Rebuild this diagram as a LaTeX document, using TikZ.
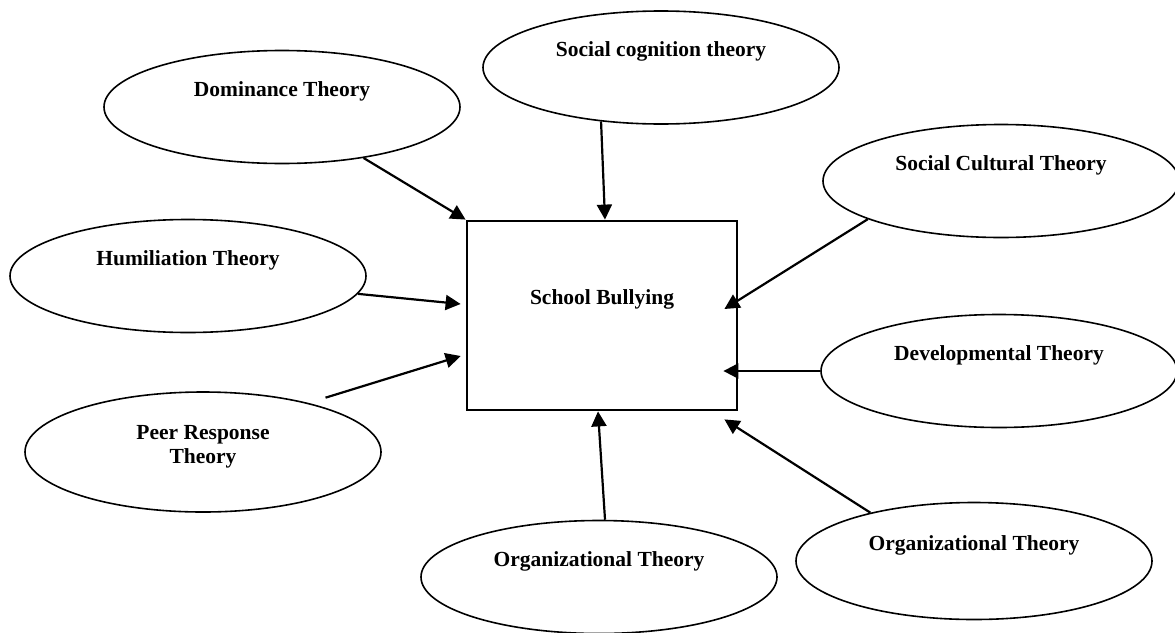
\documentclass[tikz,border=0pt]{standalone}
\usepackage{fontspec}
\setmainfont{Liberation Serif}
\usetikzlibrary{arrows.meta}
\usetikzlibrary{shapes}

\begin{document}
\begin{tikzpicture}[x = 1pt, y = -1pt, font=\bfseries\fontsize{21.5}{24}\selectfont]
	\tikzstyle{theoryStyle}=[shape = ellipse, draw, line width = 1.6pt, minimum width = 356pt, minimum height = 113pt, inner sep = 0pt, text height = 15pt, text depth = 37pt]
	\tikzstyle{boxStyle}=[shape = rectangle, draw, line width = 2.8pt, minimum width = 270pt, minimum height = 189pt, inner sep = 0pt, text height = 15pt, text depth = 37pt]
	\tikzstyle{arrowStyle}=[line width = 2.2pt, -{Triangle[length = 15pt, width = 15pt]}]
	\useasboundingbox (0, 0) rectangle (1175, 632);
	\node[boxStyle] (sb) at (602, 315.5) {School Bullying};
	\node[theoryStyle] (dom) at (282, 107) {Dominance Theory};
	\node[theoryStyle] (soc) at (661, 67.5) {Social cognition theory};
	\node[theoryStyle] (cul) at (1001, 181) {Social Cultural Theory};
	\node[theoryStyle] (hum) at (188, 276) {Humiliation Theory};
	\node[theoryStyle] (dev) at (999, 371) {Developmental Theory};
	\node[theoryStyle, minimum height = 120pt, align = center, text height = {}, text depth = 15pt] (peer) at (203, 452) {Peer Response\\Theory};
	\node[theoryStyle] (org1) at (599, 577) {Organizational Theory};
	\node[theoryStyle, minimum height = 117pt] (org2) at (974, 561) {Organizational Theory};
	\draw[arrowStyle] (dom.-32) -- (sb.north west);
	\draw[arrowStyle] (soc.222) -- ([xshift = 3pt]sb.north);
	\draw[arrowStyle] (cul.196) -- ([xshift = -14pt, yshift = 6.5pt]sb.east);
	\draw[arrowStyle] (hum.-6) -- ([xshift = -5pt, yshift = 11.5pt]sb.west);
	\draw[arrowStyle] ([xshift = 14pt, yshift = 6pt]peer.24) -- ([xshift = -5pt, yshift = -40.5pt]sb.west);
	\draw[arrowStyle] (dev.west) -- ([xshift = -15pt, yshift = -55.5pt]sb.east);
	\draw[arrowStyle] (org1.84) -- ([xshift = -4pt]sb.south);
	\draw[arrowStyle] (org2.155) -- ([xshift = -14pt, yshift = -8pt]sb.south east);
\end{tikzpicture}
\end{document}
